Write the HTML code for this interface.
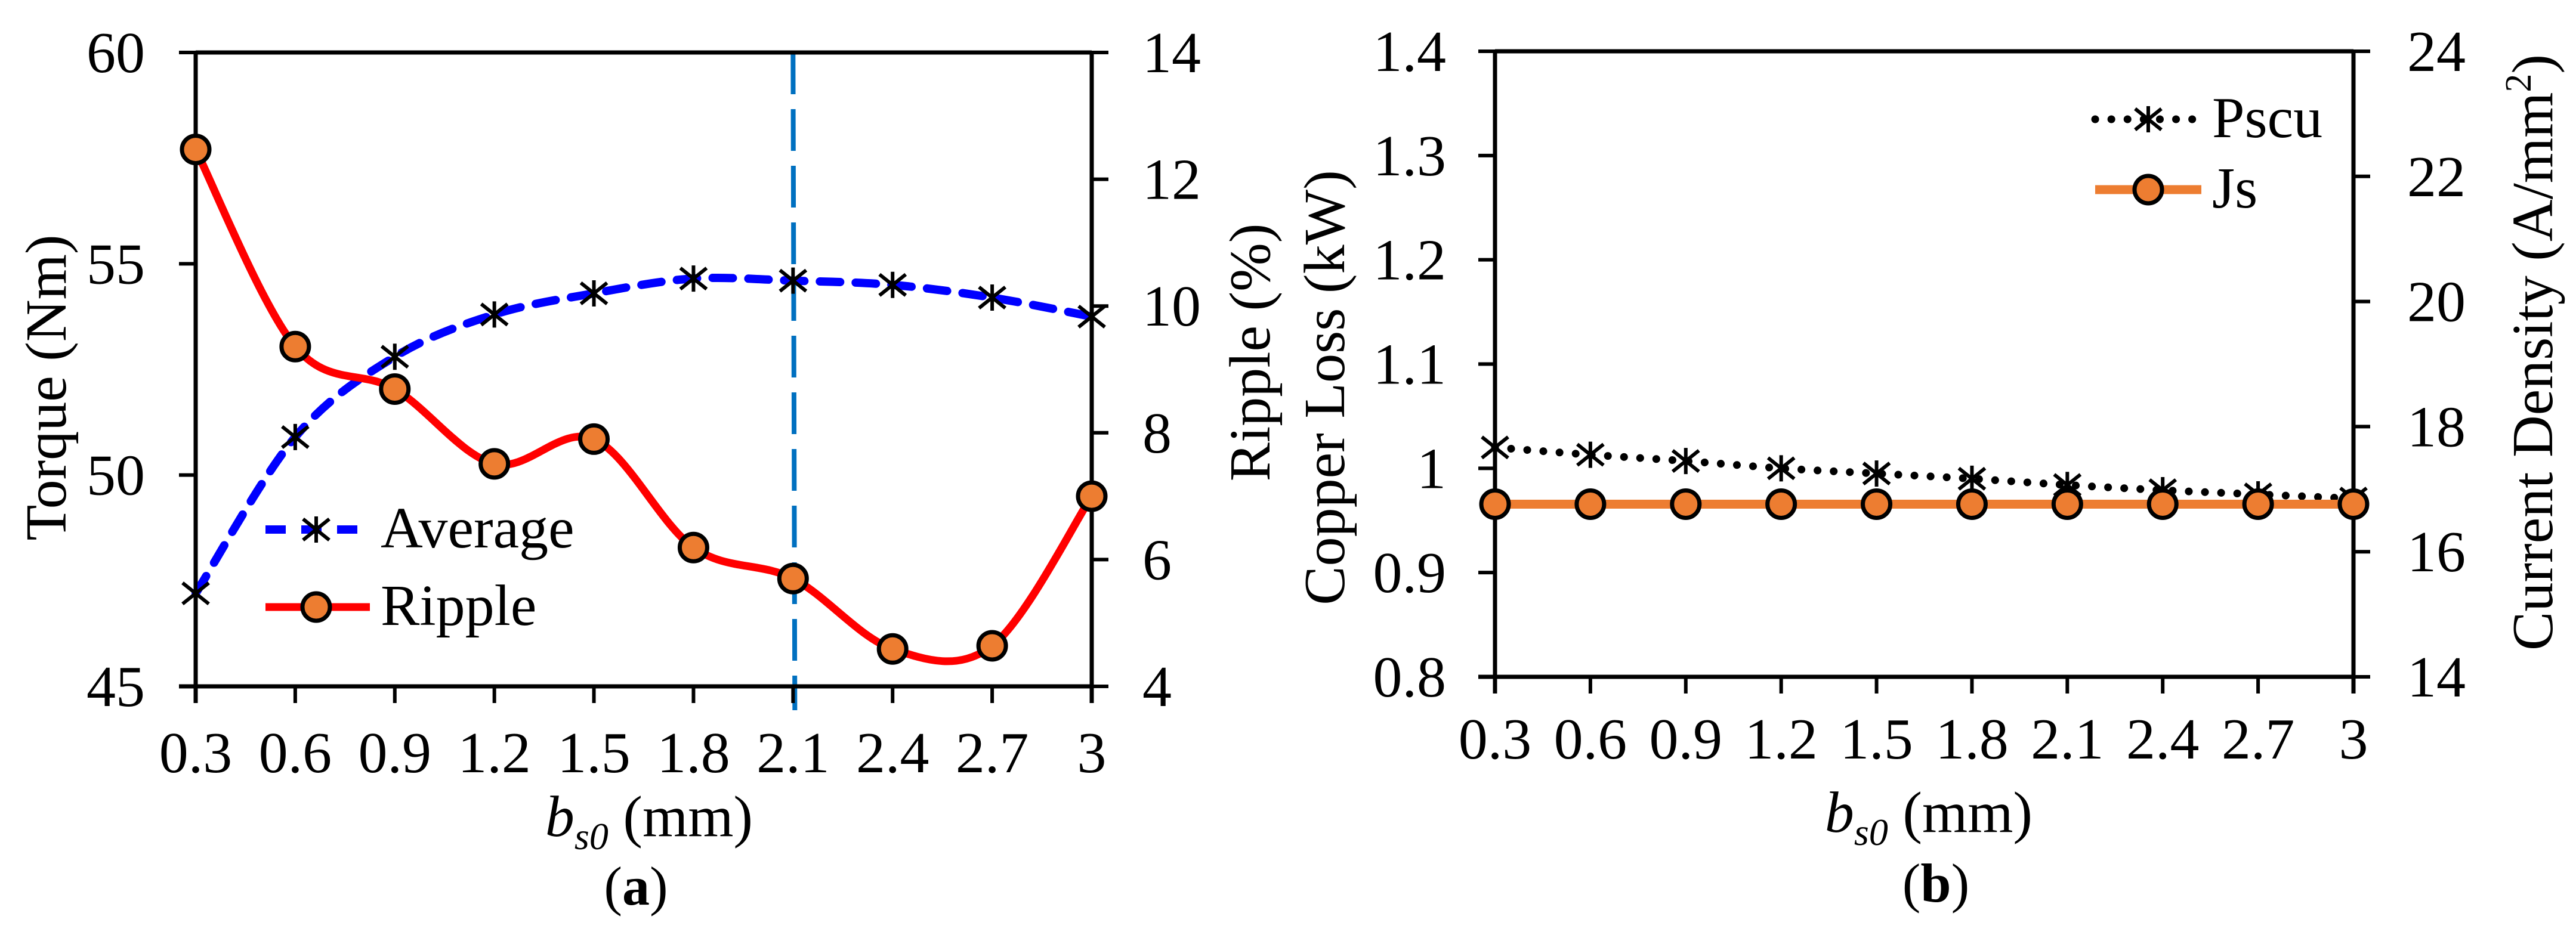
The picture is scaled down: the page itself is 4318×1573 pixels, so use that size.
<!DOCTYPE html>
<html><head><meta charset="utf-8"><style>
html,body{margin:0;padding:0;background:#fff;}
svg{display:block;}
svg text{font-family:"Liberation Serif","Times New Roman",serif;}
</style></head><body>
<svg id="svg" width="4318" height="1573" viewBox="0 0 4318 1573" xmlns="http://www.w3.org/2000/svg" font-family="Liberation Serif, serif">
<rect width="4318" height="1573" fill="#fff"/>
</svg>
<script>
const xCats = [0.3,0.6,0.9,1.2,1.5,1.8,2.1,2.4,2.7,3];
const xTickLabels = ["0.3","0.6","0.9","1.2","1.5","1.8","2.1","2.4","2.7","3"];
const torqueAvg = [47.2,50.9,52.8,53.8,54.3,54.65,54.6,54.5,54.2,53.75];
const ripplePct = [12.47,9.36,8.69,7.51,7.9,6.19,5.7,4.59,4.64,7.0];
const torqueTicks = [45,50,55,60];
const rippleTicks = [4,6,8,10,12,14];
const pscu = [1.02,1.013,1.007,1.0,0.995,0.99,0.984,0.979,0.975,0.971];
const js = [16.76,16.76,16.76,16.76,16.76,16.76,16.76,16.76,16.76,16.76];
const lossTicks = [0.8,0.9,1.0,1.1,1.2,1.3,1.4];
const lossTickLabels = ["0.8","0.9","1","1.1","1.2","1.3","1.4"];
const jTicks = [14,16,18,20,22,24];
const markerX = 2.1;

const NS="http://www.w3.org/2000/svg";
const svg=document.getElementById('svg');
const FF='Liberation Serif, Times New Roman, serif';
function mk(tag,attrs,parent,text){const e=document.createElementNS(NS,tag);for(const k in attrs)e.setAttribute(k,attrs[k]);if(tag==='text')e.setAttribute('font-family',FF);if(text!==undefined)e.textContent=text;(parent||svg).appendChild(e);return e;}
function lin(d0,d1,r0,r1){return v=>r0+(v-d0)*(r1-r0)/(d1-d0);}
function smoothPath(pts){let d=`M${pts[0][0]},${pts[0][1]}`;for(let i=0;i<pts.length-1;i++){const p0=pts[Math.max(0,i-1)],p1=pts[i],p2=pts[i+1],p3=pts[Math.min(pts.length-1,i+2)];const t=1/6;d+=` C${p1[0]+(p2[0]-p0[0])*t},${p1[1]+(p2[1]-p0[1])*t} ${p2[0]-(p3[0]-p1[0])*t},${p2[1]-(p3[1]-p1[1])*t} ${p2[0]},${p2[1]}`;}return d;}
function star(g,x,y,s){const a=s;mk('path',{d:`M${x-a},${y-a*0.8}L${x+a},${y+a*0.8}M${x-a},${y+a*0.8}L${x+a},${y-a*0.8}M${x},${y-a}L${x},${y+a}`,stroke:'#000','stroke-width':6,fill:'none'},g);}
function circ(g,x,y){mk('circle',{cx:x,cy:y,r:23,fill:'#ED7D31',stroke:'#000','stroke-width':7},g);}

function frame(g,L,R,T,B,xs,ylS,yrS,lt,ltl,rt,cfgs){
  mk('line',{x1:L,y1:T,x2:R,y2:T,stroke:'#000','stroke-width':7},g);
  const xa=mk('g',{},g);
  mk('line',{x1:L-28,y1:B,x2:R,y2:B,stroke:'#000','stroke-width':7},xa);
  xCats.forEach((c,i)=>{const x=xs(c);mk('line',{x1:x,y1:B,x2:x,y2:B+28,stroke:'#000','stroke-width':6},xa);
    const t=mk('text',{x:x,y:cfgs.xLabY,'font-size':98,'text-anchor':'middle'},xa,xTickLabels[i]);});
  const yl=mk('g',{},g);
  mk('line',{x1:L,y1:T,x2:L,y2:B+28,stroke:'#000','stroke-width':7},yl);
  lt.forEach((v,i)=>{const y=ylS(v);mk('line',{x1:L-28,y1:y,x2:L,y2:y,stroke:'#000','stroke-width':6},yl);
    const t=mk('text',{x:cfgs.lLabX,y:y+33,'font-size':98,'text-anchor':'end'},yl,ltl[i]);});
  const yr=mk('g',{},g);
  mk('line',{x1:R,y1:T,x2:R,y2:B+28,stroke:'#000','stroke-width':7},yr);
  rt.forEach(v=>{const y=yrS(v);mk('line',{x1:R,y1:y,x2:R+28,y2:y,stroke:'#000','stroke-width':6},yr);
    const t=mk('text',{x:cfgs.rLabX,y:y+33,'font-size':98,'text-anchor':'start'},yr,String(v));});
}

// ---------- Chart (a)
{
const g=mk('g',{});
const L=328,R=1830,T=88,B=1151;
const xs=lin(0.3,3,L,R), yl=lin(45,60,B,T), yr=lin(4,14,B,T);
const vx=xs(markerX);
const vl=mk('line',{x1:vx,y1:T,x2:vx+3,y2:B+40,stroke:'#0070C0','stroke-width':8,'stroke-dasharray':'70,25'},g);

frame(g,L,R,T,B,xs,yl,yr,torqueTicks,torqueTicks.map(String),rippleTicks,{xLabY:1295,lLabX:243,rLabX:1915});
const avg=mk('g',{},g);
mk('path',{d:smoothPath(xCats.map((c,i)=>[xs(c),yl(torqueAvg[i])])),fill:'none',stroke:'#0000FF','stroke-width':14,'stroke-dasharray':'34,26','stroke-linecap':'round'},avg);
xCats.forEach((c,i)=>star(avg,xs(c),yl(torqueAvg[i]),22));
const rip=mk('g',{},g);
mk('path',{d:smoothPath(xCats.map((c,i)=>[xs(c),yr(ripplePct[i])])),fill:'none',stroke:'#FF0000','stroke-width':13},rip);
xCats.forEach((c,i)=>circ(rip,xs(c),yr(ripplePct[i])));
const lg=mk('g',{},g);
const l1=mk('g',{},lg);
mk('line',{x1:445,y1:888,x2:620,y2:888,stroke:'#0000FF','stroke-width':14,'stroke-dasharray':'34,26'},l1);star(l1,530,888,22);
mk('text',{x:638,y:918,'font-size':98},l1,'Average');
const l2=mk('g',{},lg);
mk('line',{x1:445,y1:1018,x2:620,y2:1018,stroke:'#FF0000','stroke-width':13},l2);circ(l2,530,1018);
mk('text',{x:638,y:1048,'font-size':98},l2,'Ripple');
const yt=mk('text',{x:0,y:0,'font-size':98,'text-anchor':'middle',transform:'translate(110,650) rotate(-90)'},g,'Torque (Nm)');

const yt2=mk('text',{x:0,y:0,'font-size':98,'text-anchor':'middle',transform:'translate(2128,591) rotate(-90)'},g,'Ripple (%)');

const xt=mk('text',{x:1088,y:1402,'font-size':98,'text-anchor':'middle'},g);

mk('tspan',{'font-style':'italic'},xt,'b');mk('tspan',{'font-style':'italic','font-size':64,dy:22},xt,'s0');mk('tspan',{dy:-22},xt,' (mm)');
const cap=mk('text',{x:1066,y:1517,'font-size':92,'text-anchor':'middle'},g);

mk('tspan',{},cap,'(');mk('tspan',{'font-weight':'bold'},cap,'a');mk('tspan',{},cap,')');
}

// ---------- Chart (b)
{
const g=mk('g',{});
const L=2506,R=3945,T=86,B=1135;
const xs=lin(0.3,3,L,R), yl=lin(0.8,1.4,B,T), yr=lin(14,24,B,T);
frame(g,L,R,T,B,xs,yl,yr,lossTicks,lossTickLabels,jTicks,{xLabY:1272,lLabX:2424,rLabX:4035});
const ps=mk('g',{},g);
mk('path',{d:smoothPath(xCats.map((c,i)=>[xs(c),yl(pscu[i])])),fill:'none',stroke:'#000','stroke-width':13,'stroke-dasharray':'0.1,27','stroke-linecap':'round'},ps);
xCats.forEach((c,i)=>star(ps,xs(c),yl(pscu[i]),22));
const jg=mk('g',{},g);
mk('path',{d:smoothPath(xCats.map((c,i)=>[xs(c),yr(js[i])])),fill:'none',stroke:'#ED7D31','stroke-width':15},jg);
xCats.forEach((c,i)=>circ(jg,xs(c),yr(js[i])));
const lg=mk('g',{},g);
const l1=mk('g',{},lg);
mk('line',{x1:3512,y1:200,x2:3690,y2:200,stroke:'#000','stroke-width':13,'stroke-dasharray':'0.1,27','stroke-linecap':'round'},l1);star(l1,3601,200,22);
mk('text',{x:3708,y:230,'font-size':98},l1,'Pscu');
const l2=mk('g',{},lg);
mk('line',{x1:3512,y1:318,x2:3690,y2:318,stroke:'#ED7D31','stroke-width':15},l2);circ(l2,3601,318);
mk('text',{x:3708,y:348,'font-size':98},l2,'Js');
const yt=mk('text',{x:0,y:0,'font-size':98,'text-anchor':'middle',transform:'translate(2253,650) rotate(-90)'},g,'Copper Loss (kW)');

const yt2=mk('text',{x:0,y:0,'font-size':98,'text-anchor':'middle',transform:'translate(4278,591) rotate(-90)'},g);

mk('tspan',{},yt2,'Current Density (A/mm');mk('tspan',{'font-size':62,dy:-36},yt2,'2');mk('tspan',{dy:36},yt2,')');
const xt=mk('text',{x:3233,y:1395,'font-size':98,'text-anchor':'middle'},g);

mk('tspan',{'font-style':'italic'},xt,'b');mk('tspan',{'font-style':'italic','font-size':64,dy:22},xt,'s0');mk('tspan',{dy:-22},xt,' (mm)');
const cap=mk('text',{x:3245,y:1512,'font-size':92,'text-anchor':'middle'},g);

mk('tspan',{},cap,'(');mk('tspan',{'font-weight':'bold'},cap,'b');mk('tspan',{},cap,')');
}
</script>
</body></html>
